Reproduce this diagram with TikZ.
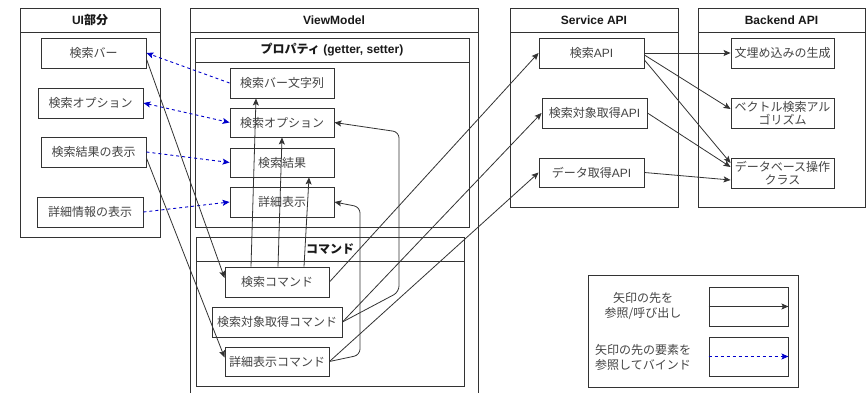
\documentclass[tikz,border=0pt]{standalone}
\usepackage{fontspec}
\setmainfont{Noto Sans CJK JP}
\newfontfamily\latf{Liberation Sans}
\usetikzlibrary{arrows.meta,calc}
\definecolor{ln}{HTML}{333333}
\definecolor{tx}{HTML}{444444}
\definecolor{bind}{HTML}{0000CC}
\tikzset{
  bx/.style={draw=ln, line width=0.9pt, inner sep=0pt, text=tx, font=\fontsize{12}{14}\selectfont, align=center},
  ctn/.style={draw=ln, line width=0.9pt, inner sep=0pt},
  ttl/.style={inner sep=0pt, font=\fontsize{12}{14}\selectfont\bfseries, text=black!90},
  call/.style={draw=ln, line width=0.8pt, -{Stealth[length=7pt,width=6pt,inset=1.5pt]}},
  bindarr/.style={draw=bind, line width=0.9pt, dash pattern=on 3pt off 3pt, -{Stealth[length=7pt,width=6pt,inset=1.5pt]}},
  bindboth/.style={draw=bind, line width=0.9pt, dash pattern=on 3pt off 3pt, {Stealth[length=7pt,width=6pt,inset=1.5pt]}-{Stealth[length=7pt,width=6pt,inset=1.5pt]}},
}
\begin{document}
\begin{tikzpicture}[x=1pt,y=-1pt]
\useasboundingbox (0,0) rectangle (867,393);
\clip (0,0) rectangle (867,393);
\fill[white] (0,0) rectangle (867,393);

% ---------- containers ----------
\node[ctn, minimum width=140pt, minimum height=229pt] (ui) at (90,122.5) {};
\draw[ln, line width=0.9pt] (20,32) -- (160,32);
\node[ttl] (uit) at (90,20) {{\latf UI}部分};

\node[ctn, minimum width=288pt, minimum height=400pt] (vm) at (334,208) {};
\draw[ln, line width=0.9pt] (190,32) -- (478,32);
\node[ttl] (vmt) at (334,20) {\latf ViewModel};

\node[ctn, minimum width=274pt, minimum height=189pt] (pr) at (332,132.5) {};
\draw[ln, line width=0.9pt] (195,62) -- (469,62);
\node[ttl] (prt) at (332,50) {プロパティ{\latf\ (getter, setter)}};

\node[ctn, minimum width=268pt, minimum height=149pt] (cm) at (330,311.5) {};
\draw[ln, line width=0.9pt] (196,261) -- (464,261);
\node[ttl] (cmt) at (330,249) {コマンド};

\node[ctn, minimum width=168pt, minimum height=199pt] (sv) at (594,107.5) {};
\draw[ln, line width=0.9pt] (510,32) -- (678,32);
\node[ttl] (svt) at (594,20) {\latf Service API};

\node[ctn, minimum width=167pt, minimum height=199pt] (be) at (781.5,107.5) {};
\draw[ln, line width=0.9pt] (698,32) -- (865,32);
\node[ttl] (bet) at (781.5,20) {\latf Backend API};

% ---------- UI ----------
\node[bx, minimum width=105pt, minimum height=30pt] (uibar) at (93.5,53) {検索バー};
\node[bx, minimum width=105pt, minimum height=30pt] (uiopt) at (90.5,103) {検索オプション};
\node[bx, minimum width=105pt, minimum height=30pt] (uires) at (93.5,152) {検索結果の表示};
\node[bx, minimum width=106pt, minimum height=30pt] (uidet) at (90,212) {詳細情報の表示};

% ---------- properties ----------
\node[bx, minimum width=104pt, minimum height=30pt] (pbar) at (282,83) {検索バー文字列};
\node[bx, minimum width=104pt, minimum height=29pt] (popt) at (282,122.5) {検索オプション};
\node[bx, minimum width=104pt, minimum height=29pt] (pres) at (282,162.5) {検索結果};
\node[bx, minimum width=104pt, minimum height=30pt] (pdet) at (282,202) {詳細表示};

% ---------- commands ----------
\node[bx, minimum width=104pt, minimum height=30pt] (cs) at (277,282) {検索コマンド};
\node[bx, minimum width=130pt, minimum height=30pt] (ct) at (277,322) {検索対象取得コマンド};
\node[bx, minimum width=104pt, minimum height=29pt] (cd) at (277,361.5) {詳細表示コマンド};

% ---------- service ----------
\node[bx, minimum width=105pt, minimum height=30pt] (sa) at (591.5,53) {検索{\latf API}};
\node[bx, minimum width=105pt, minimum height=30pt] (st) at (594.5,113) {検索対象取得{\latf API}};
\node[bx, minimum width=105pt, minimum height=29pt] (sd) at (591.5,172.5) {データ取得{\latf API}};

% ---------- backend ----------
\node[bx, minimum width=103pt, minimum height=30pt] (b1) at (782.5,53) {文埋め込みの生成};
\node[bx, minimum width=103pt, minimum height=30pt, font=\fontsize{12}{13}\selectfont] (b2) at (782.5,113) {ベクトル検索アル\\ゴリズム};
\node[bx, minimum width=103pt, minimum height=30pt, font=\fontsize{12}{13}\selectfont] (b3) at (782.5,173) {データベース操作\\クラス};

% ---------- legend ----------
\node[ctn, minimum width=210pt, minimum height=112pt] (lg) at (693,331) {};
\node[bx, draw=none, font=\fontsize{12}{15}\selectfont] (lt1) at (643,306) {矢印の先を\\参照/呼び出し};
\node[bx, draw=none, font=\fontsize{12}{15}\selectfont] (lt2) at (643,357) {矢印の先の要素を\\参照してバインド};
\node[bx, minimum width=79pt, minimum height=39pt] (ls1) at (748.5,306.5) {};
\node[bx, minimum width=79pt, minimum height=39pt] (ls2) at (748.5,356.5) {};
\draw[call] (ls1.west) -- (ls1.east);
\draw[bindarr] (ls2.west) -- (ls2.east);

% ---------- binding connectors ----------
\draw[bindarr] (pbar.west) -- (uibar.east);
\draw[bindboth] (uiopt.east) -- (popt.west);
\draw[bindarr] (uires.east) -- (pres.west);
\draw[bindarr] (uidet.east) -- (pdet.west);

% ---------- call connectors ----------
\draw[call] ([yshift=-6pt]uibar.east) -- ([yshift=4pt]cs.west);
\draw[call] ([yshift=-6pt]uires.east) -- ([yshift=4pt]cd.west);

\draw[call] ([xshift=-26pt]cs.north) -- ([xshift=-26pt]pbar.south);
\draw[call] ([xshift=1pt]cs.north) -- (popt.south);
\draw[call] ([xshift=27pt]cs.north) -- ([xshift=27pt]pres.south);

\draw[call, rounded corners=6pt] (ct.east) -- (399,292) -- (399,132) -- (popt.east);
\draw[call, rounded corners=6pt] (cd.east) -- (360,355) -- (360,207) -- (pdet.east);

\draw[call] (cs.east) -- (sa.west);
\draw[call] (ct.east) -- (st.west);
\draw[call] (cd.east) -- (sd.west);

\draw[call] (sa.east) -- (b1.west);
\draw[call] ([yshift=-2pt]sa.east) -- ([yshift=4pt]b2.west);
\draw[call] ([yshift=-7pt]sa.east) -- ([yshift=10pt]b3.west);
\draw[call] (st.east) -- ([yshift=6pt]b3.west);
\draw[call] (sd.east) -- ([yshift=-7pt]b3.west);
\end{tikzpicture}
\end{document}
